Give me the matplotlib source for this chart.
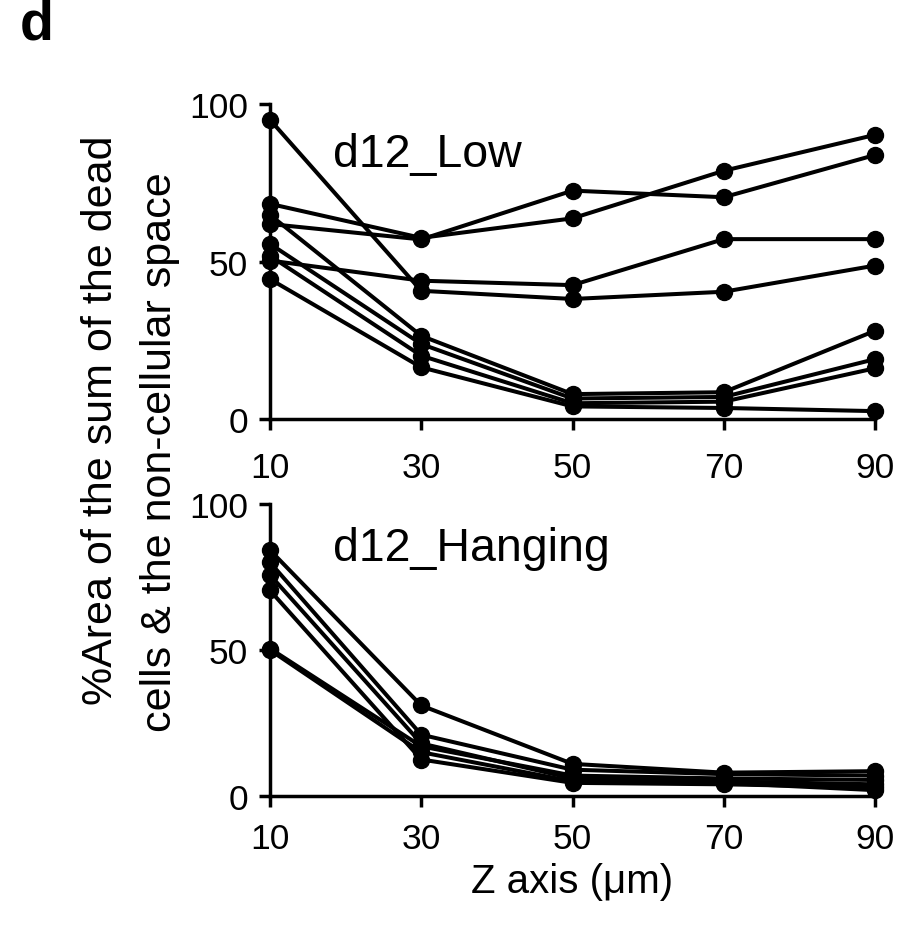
import matplotlib
matplotlib.use("Agg")
import matplotlib.pyplot as plt

plt.rcParams['font.family'] = ['Liberation Sans', 'DejaVu Sans']

# Z depths (um)
z = [10, 30, 50, 70, 90]

# d12_Low: one list per sample
low_series = [
    [68.3, 57.5, 63.7, 78.8, 90.2],
    [61.9, 57.0, 72.5, 70.4, 83.8],
    [95.0, 40.7, 38.1, 40.4, 48.7],
    [50.3, 43.9, 42.5, 57.1, 57.1],
    [64.8, 26.4, 7.9, 8.5, 28.0],
    [55.6, 23.8, 6.5, 7.0, 19.0],
    [51.8, 20.1, 5.0, 5.5, 16.1],
    [44.4, 16.4, 4.0, 3.5, 2.5],
]

# d12_Hanging
hanging_series = [
    [84.2, 31.0, 11.0, 8.0, 8.5],
    [80.0, 21.0, 9.0, 7.5, 7.0],
    [75.7, 18.0, 6.0, 5.0, 4.0],
    [70.4, 12.5, 4.5, 4.0, 3.0],
    [50.5, 17.0, 7.0, 6.0, 5.5],
    [50.0, 15.0, 5.0, 4.5, 2.0],
]

panel_names = ["d12_Low", "d12_Hanging"]
y_ticks = [0, 50, 100]

W, H = 899, 929
fig = plt.figure(figsize=(W / 100, H / 100), dpi=100)

# axes boxes in pixel terms -> figure fractions
ax_top = fig.add_axes([270 / W, 1 - 420 / H, 605 / W, 315 / H])
ax_bot = fig.add_axes([270 / W, 1 - 797 / H, 605 / W, 292 / H])

def style_axis(ax, xpad):
    ax.set_xlim(10, 90)
    ax.set_ylim(0, 100)
    ax.set_xticks(z)
    ax.set_yticks(y_ticks)
    for side in ("top", "right"):
        ax.spines[side].set_visible(False)
    for side in ("left", "bottom"):
        ax.spines[side].set_linewidth(2.5)
    ax.tick_params(axis="both", direction="out", width=2.5, length=8,
                   labelsize=25.5, colors="black")
    ax.tick_params(axis="y", pad=8)
    ax.tick_params(axis="x", pad=xpad)

for ax, series, name, txt_y, xpad in [
    (ax_top, low_series, panel_names[0], 84, 15),
    (ax_bot, hanging_series, panel_names[1], 85, 11),
]:
    for vals in series:
        ax.plot(z, vals, color="black", lw=2.9, marker="o", ms=11.5,
                clip_on=False, zorder=3)
    style_axis(ax, xpad)
    ax.text(18.3, txt_y, name, fontsize=33.5, va="center", ha="left")

# y label, two lines
fig.text(101 / W, 1 - 420 / H, "%Area of the sum of the dead", rotation=90,
         fontsize=31, ha="center", va="center")
fig.text(160 / W, 1 - 452 / H, "cells & the non-cellular space", rotation=90,
         fontsize=31, ha="center", va="center")

fig.text(572 / W, 1 - 882 / H, "Z axis (\u03bcm)", fontsize=29,
         ha="center", va="center")

fig.text(20 / W, 1 - 25 / H, "d", fontsize=40, fontweight="bold",
         ha="left", va="center")

fig.savefig("out.png", dpi=100)
